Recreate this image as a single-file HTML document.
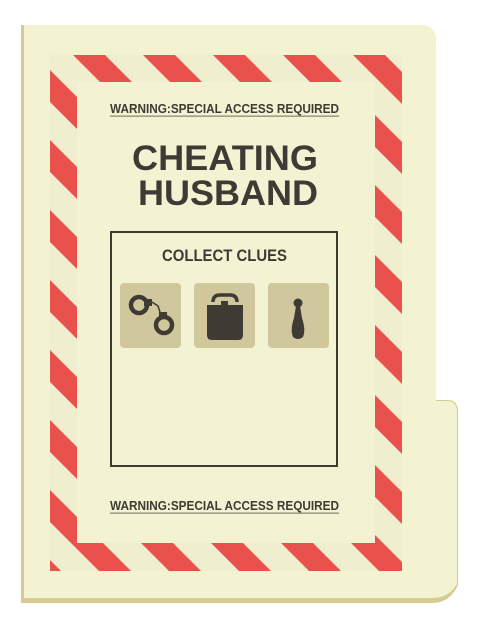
<!DOCTYPE html>
<html><head><meta charset="utf-8"><style>
html,body{margin:0;padding:0;background:#fff;width:480px;height:624px;overflow:hidden}
svg{display:block}
text{font-family:"Liberation Sans","DejaVu Sans",sans-serif;font-weight:bold;fill:#3f3a33}
</style></head><body>
<svg width="480" height="624" viewBox="0 0 480 624">
<defs>
<pattern id="stripes" patternUnits="userSpaceOnUse" width="70" height="70" patternTransform="translate(18,0) skewX(0)">
<rect width="70" height="70" fill="#efefd0"/>
<polygon points="0,0 32,0 102,70 70,70" fill="#e9524c"/>
<polygon points="-70,0 -38,0 32,70 0,70" fill="#e9524c"/>
</pattern>
</defs>
<g>
<path d="M21,25 H420 Q436,25 436,42 V400 H448 Q458,400 458,412 V585 Q450,603 432,603 H21 Z" fill="#d6cc93"/>
<path d="M24,25 H420 Q436,25 436,42 V401 H448 Q457,402 457,412 V584 Q449,598 432,598 H24 Z" fill="#f3f3d1"/>
</g>
<g>
<path d="M50,55 H402 V571 H50 Z M77,82 V543 H375 V82 Z" fill-rule="evenodd" fill="url(#stripes)"/>
<rect x="77" y="82" width="298" height="461" fill="#f3f3d3"/>
</g>
<g>
<text x="110" y="113" font-size="12.5" textLength="229" lengthAdjust="spacingAndGlyphs">WARNING:SPECIAL ACCESS REQUIRED</text>
<rect x="110" y="115.5" width="229" height="1.3" fill="#8f8a7a"/>
</g>
<text x="132" y="170" font-size="35" textLength="186" lengthAdjust="spacingAndGlyphs">CHEATING</text>
<text x="138" y="205" font-size="35" textLength="180" lengthAdjust="spacingAndGlyphs">HUSBAND</text>
<rect x="111" y="232" width="226" height="234" fill="none" stroke="#3f3a33" stroke-width="2"/>
<text x="162" y="261" font-size="17" textLength="125" lengthAdjust="spacingAndGlyphs" style="font-weight:600">COLLECT CLUES</text>
<g>
<rect x="120" y="283" width="61" height="65" rx="4" fill="#d0c79c"/>
<g fill="none" stroke="#3f3a33" stroke-width="4.5">
<circle cx="139" cy="305" r="8"/>
<circle cx="164" cy="325" r="8"/>
</g>
<rect x="144" y="299" width="8" height="7" fill="#3f3a33"/>
<rect x="159" y="312" width="8" height="6" fill="#3f3a33"/>
<path d="M152,302 L158,306 L160,312" fill="none" stroke="#3f3a33" stroke-width="1.5"/>
</g>
<g>
<rect x="194" y="283" width="61" height="65" rx="4" fill="#d0c79c"/>
<path d="M213,302 Q213,295 220,295 H230 Q237,295 237,302" fill="none" stroke="#3f3a33" stroke-width="3.5"/>
<rect x="221" y="301" width="7" height="5" fill="#3f3a33"/>
<path d="M207,305 H243 V335 Q243,340 238,340 H212 Q207,340 207,335 Z" fill="#3f3a33"/>
</g>
<g>
<rect x="268" y="283" width="61" height="65" rx="4" fill="#d0c79c"/>
<circle cx="298" cy="303" r="4.5" fill="#3f3a33"/>
<path d="M296,306 H300 L302,318 Q306,330 303,337 Q298,341 293,337 Q290,330 294,318 Z" fill="#3f3a33"/>
</g>
<g>
<text x="110" y="510" font-size="12.5" textLength="229" lengthAdjust="spacingAndGlyphs">WARNING:SPECIAL ACCESS REQUIRED</text>
<rect x="110" y="512.5" width="229" height="1.3" fill="#8f8a7a"/>
</g>
</svg>
</body></html>
